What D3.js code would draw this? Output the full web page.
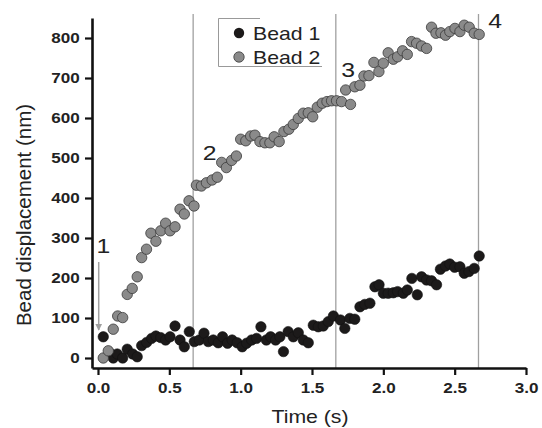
<!DOCTYPE html>
<html>
<head>
<meta charset="utf-8">
<script src="https://cdn.jsdelivr.net/npm/d3@7"></script>
<style>
  body { margin: 0; background: #fff; }
  text { font-family: "Liberation Sans", Arial, sans-serif; }
</style>
</head>
<body>
<div id="chart"></div>
<script>
// Bead 1 (black) time (s) and displacement (nm)
const bead1Time = [0.037, 0.084, 0.107, 0.135, 0.173, 0.205, 0.243, 0.275, 0.306, 0.341, 0.376, 0.406, 0.44, 0.474, 0.505, 0.54, 0.575, 0.605, 0.64, 0.675,
  0.71, 0.743, 0.773, 0.808, 0.843, 0.873, 0.908, 0.94, 0.976, 1.011, 1.042, 1.077, 1.112, 1.142, 1.18, 1.21, 1.245, 1.275, 1.30, 1.333,
  1.369, 1.404, 1.439, 1.474, 1.509, 1.544, 1.579, 1.614, 1.65, 1.70, 1.73, 1.765, 1.80, 1.836, 1.87, 1.906, 1.941, 1.97, 2.0, 2.034,
  2.07, 2.1, 2.14, 2.168, 2.2, 2.238, 2.268, 2.303, 2.338, 2.373, 2.40, 2.436, 2.466, 2.50, 2.537, 2.567, 2.60, 2.637, 2.672];
const bead1Nm = [53, 12, 0, 10, 0, 22, 10, 3, 31, 39, 49, 55, 51, 45, 53, 80, 45, 28, 66, 41,
  45, 62, 41, 45, 38, 53, 37, 45, 38, 28, 37, 45, 49, 78, 45, 53, 45, 53, 16, 66,
  53, 63, 45, 38, 82, 78, 80, 91, 105, 95, 74, 99, 97, 128, 134, 137, 178, 183, 162, 162,
  163, 166, 162, 170, 199, 158, 203, 195, 193, 183, 222, 230, 235, 227, 228, 212, 216, 224, 255];

// Bead 2 (grey)
const bead2Time = [0.037, 0.072, 0.107, 0.138, 0.173, 0.205, 0.24, 0.275, 0.306, 0.34, 0.371, 0.406, 0.44, 0.474, 0.505, 0.54, 0.575, 0.605, 0.638, 0.673,
  0.69, 0.725, 0.76, 0.80, 0.836, 0.867, 0.9, 0.937, 0.97, 1.0, 1.036, 1.07, 1.1, 1.135, 1.17, 1.205, 1.235, 1.27, 1.303, 1.338,
  1.369, 1.404, 1.439, 1.474, 1.505, 1.537, 1.572, 1.605, 1.637, 1.672, 1.707, 1.736, 1.77, 1.80, 1.836, 1.864, 1.899, 1.934, 1.969, 2.0,
  2.034, 2.07, 2.1, 2.135, 2.168, 2.198, 2.233, 2.268, 2.303, 2.338, 2.369, 2.404, 2.436, 2.466, 2.502, 2.537, 2.567, 2.602, 2.637, 2.672];
const bead2Nm = [0, 18, 72, 105, 101, 159, 174, 203, 251, 272, 312, 292, 318, 337, 318, 328, 372, 360, 393, 380,
  432, 430, 438, 445, 452, 489, 476, 494, 505, 547, 543, 555, 557, 541, 538, 538, 553, 541, 566, 572,
  584, 599, 612, 613, 603, 627, 637, 641, 643, 643, 641, 670, 634, 678, 682, 705, 706, 739, 716, 737,
  763, 747, 753, 768, 759, 791, 787, 780, 774, 827, 812, 813, 807, 816, 824, 816, 832, 827, 812, 809];

const xTicks = [0, 0.5, 1.0, 1.5, 2.0, 2.5, 3.0];
const yTicks = [0, 100, 200, 300, 400, 500, 600, 700, 800];
const eventTimes = [0.667, 1.667, 2.667];
const eventLabels = ["1", "2", "3", "4"];
const eventLabelTime = [-0.01, 0.735, 1.705, 2.735];
const eventLabelNm = [263, 495, 703, 824];

const W = 542, H = 428;
const svg = d3.select("#chart").append("svg")
    .attr("width", W).attr("height", H);

// Scales (axes are offset from the data origin)
const x = d3.scaleLinear().domain([-0.042, 3]).range([92, 526]);
const y = d3.scaleLinear().domain([-25, 850]).range([368, 18]);

// Event lines
svg.selectAll(".event")
    .data(eventTimes)
    .join("line")
    .attr("x1", d => x(d)).attr("x2", d => x(d))
    .attr("y1", 14).attr("y2", y(-25))
    .attr("stroke", "#a0a0a0").attr("stroke-width", 1.3);

// Arrow for event 1
svg.append("defs").append("marker")
    .attr("id", "arr").attr("viewBox", "0 0 10 10")
    .attr("refX", 9).attr("refY", 5)
    .attr("markerWidth", 7).attr("markerHeight", 9)
    .attr("markerUnits", "userSpaceOnUse")
    .attr("orient", "auto")
    .append("path").attr("d", "M0,0 L10,5 L0,10 Z").attr("fill", "#a0a0a0");
svg.append("line")
    .attr("x1", x(0.005)).attr("x2", x(0.005))
    .attr("y1", y(240)).attr("y2", y(70))
    .attr("stroke", "#a0a0a0").attr("stroke-width", 1.5)
    .attr("marker-end", "url(#arr)");

// Event numbers
svg.selectAll(".evlabel")
    .data(eventLabels)
    .join("text")
    .attr("transform", (d, i) => `translate(${x(eventLabelTime[i])},${y(eventLabelNm[i])}) scale(1.18,1)`)
    .attr("font-size", 21)
    .attr("fill", "#222")
    .text(d => d);

// Axes
const xAxis = svg.append("g")
    .attr("transform", `translate(0,${y(-25)})`)
    .call(d3.axisBottom(x).tickValues(xTicks).tickFormat(d3.format(".1f")).tickSize(7).tickSizeOuter(0));
const yAxis = svg.append("g")
    .attr("transform", `translate(${x(-0.042)},0)`)
    .call(d3.axisLeft(y).tickValues(yTicks).tickSize(7).tickSizeOuter(0));

[xAxis, yAxis].forEach(g => {
    g.select(".domain").attr("stroke", "#111").attr("stroke-width", 2.6);
    g.selectAll(".tick line").attr("stroke", "#111").attr("stroke-width", 2.2);
    g.selectAll(".tick text")
        .attr("font-family", "Liberation Sans, Arial, sans-serif")
        .attr("font-size", 14).attr("font-weight", "bold").attr("fill", "#222");
});
xAxis.selectAll(".tick text").attr("dy", "0.71em").attr("y", 15).attr("transform", "scale(1.22,1)");
yAxis.selectAll(".tick text").attr("x", -10).attr("transform", "scale(1.22,1)");

// Axis titles
svg.append("text")
    .attr("transform", "translate(310,423) scale(1.18,1)")
    .attr("text-anchor", "middle")
    .attr("font-size", 18).attr("fill", "#222")
    .text("Time (s)");
svg.append("text")
    .attr("transform", "translate(31,215) rotate(-90)")
    .attr("text-anchor", "middle")
    .attr("font-size", 20.5).attr("fill", "#222")
    .text("Bead displacement (nm)");

// Points
const bead1 = bead1Time.map((t, i) => ({ t: t, v: bead1Nm[i] }));
const bead2 = bead2Time.map((t, i) => ({ t: t, v: bead2Nm[i] }));

svg.append("g").selectAll("circle")
    .data(bead1)
    .join("circle")
    .attr("cx", d => x(d.t)).attr("cy", d => y(d.v))
    .attr("r", 5.2)
    .attr("fill", "#1c1a1a")
    .attr("stroke", "#111").attr("stroke-width", 0.6);

svg.append("g").selectAll("circle")
    .data(bead2)
    .join("circle")
    .attr("cx", d => x(d.t)).attr("cy", d => y(d.v))
    .attr("r", 5.2)
    .attr("fill", "#8a8a8a")
    .attr("stroke", "#3a3a3a").attr("stroke-width", 0.8);

// Legend (partial frame as in the original)
const lg = svg.append("g");
lg.append("path")
    .attr("d", "M260,18.5 H218.5 V66.5 H322")
    .attr("fill", "none").attr("stroke", "#999").attr("stroke-width", 1);
lg.append("circle").attr("cx", 239).attr("cy", 33).attr("r", 5.2).attr("fill", "#1c1a1a");
lg.append("circle").attr("cx", 239).attr("cy", 57).attr("r", 5.2)
    .attr("fill", "#8a8a8a").attr("stroke", "#3a3a3a").attr("stroke-width", 0.8);
lg.append("text").attr("transform", "translate(253,40) scale(1.18,1)")
    .attr("font-size", 18).attr("fill", "#222").text("Bead 1");
lg.append("text").attr("transform", "translate(253,64) scale(1.18,1)")
    .attr("font-size", 18).attr("fill", "#222").text("Bead 2");
</script>
</body>
</html>
